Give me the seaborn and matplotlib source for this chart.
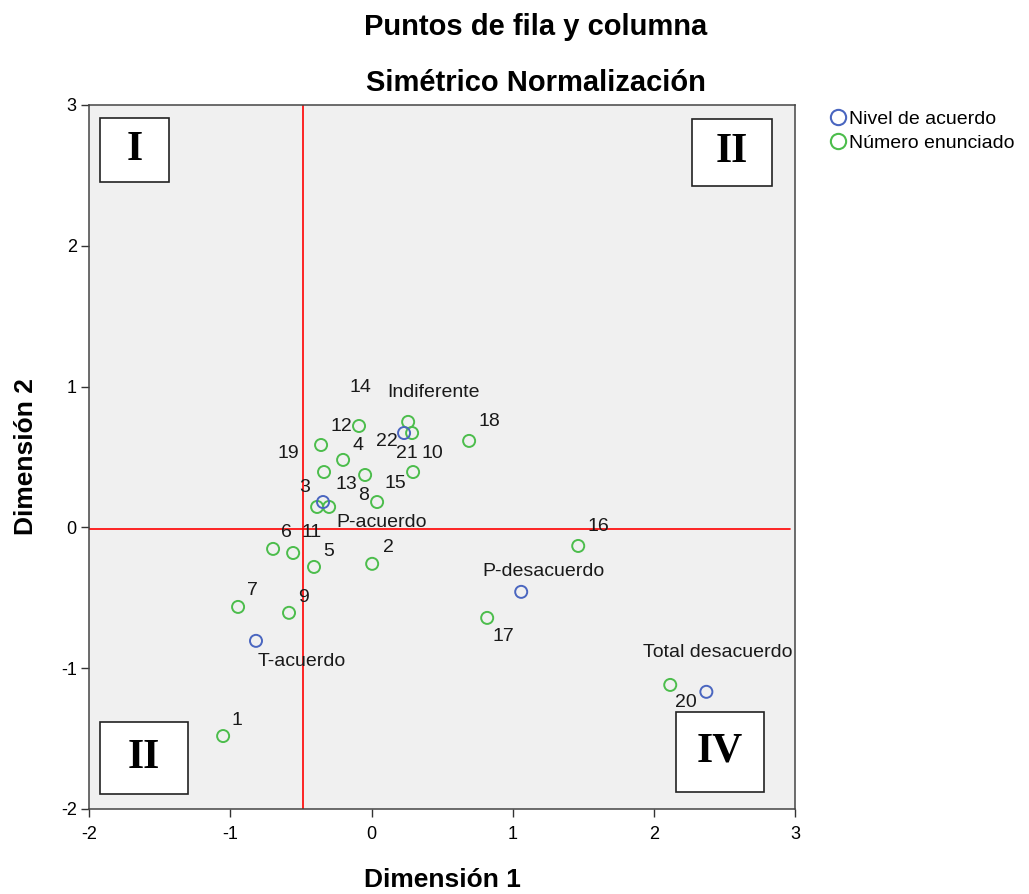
import pandas as pd
import seaborn as sns
import matplotlib.pyplot as plt
from matplotlib.patches import Rectangle
from matplotlib.lines import Line2D

# Datos
enunciados = [str(i) for i in range(1, 23)]
enunciados_dim1 = [-1.052, 0.004, -0.386, -0.202, -0.408, -0.698, -0.946, -0.046, -0.585, 0.294, -0.556,
                   -0.358, -0.301, -0.089, 0.039, 1.464, 0.819, 0.691, -0.337, 2.116, 0.287, 0.259]
enunciados_dim2 = [-1.482, -0.259, 0.145, 0.479, -0.281, -0.153, -0.565, 0.372, -0.607, 0.393, -0.182,
                   0.585, 0.145, 0.720, 0.180, -0.132, -0.643, 0.614, 0.393, -1.119, 0.670, 0.749]

niveles = ['T-acuerdo', 'P-acuerdo', 'Indiferente', 'P-desacuerdo', 'Total desacuerdo']
niveles_dim1 = [-0.819, -0.344, 0.230, 1.060, 2.372]
niveles_dim2 = [-0.806, 0.180, 0.670, -0.458, -1.168]

# desplazamiento de las etiquetas (pixeles)
off_enunciados = [(14, 16), (16, 16), (-12, 19), (15, 14), (15, 15), (13, 16), (14, 16), (-2, -21),
                  (14, 15), (19, 19), (19, 20), (20, 18), (17, 22), (1, 38), (18, 19), (20, 19),
                  (16, -19), (20, 19), (-36, 19), (16, -18), (-5, -20), (-21, -20)]
off_niveles = [(46, -21), (59, -20), (29, 41), (22, 20), (11, 39)]

verde = '#4cbd4c'
azul = '#4a66c0'

df_enun = pd.DataFrame({'etiqueta': enunciados, 'dim1': enunciados_dim1, 'dim2': enunciados_dim2})
df_niv = pd.DataFrame({'etiqueta': niveles, 'dim1': niveles_dim1, 'dim2': niveles_dim2})

sns.set_style('white')
plt.rcParams['font.family'] = ['Liberation Sans', 'DejaVu Sans']
plt.rcParams['axes.unicode_minus'] = False
plt.rcParams['text.color'] = 'black'
plt.rcParams['axes.labelcolor'] = 'black'
plt.rcParams['xtick.color'] = 'black'
plt.rcParams['ytick.color'] = 'black'

fig = plt.figure(figsize=(10.29, 8.94), dpi=100)
ax = fig.add_axes([0.0868, 0.0951, 0.6858, 0.7875])
ax.set_facecolor('#f0f0f0')

sns.scatterplot(data=df_enun, x='dim1', y='dim2', ax=ax, s=75, facecolors='none',
                edgecolor=verde, linewidth=1.4, zorder=3)
sns.scatterplot(data=df_niv, x='dim1', y='dim2', ax=ax, s=75, facecolors='none',
                edgecolor=azul, linewidth=1.4, zorder=3)

# lineas de referencia
ax.axvline(-0.485, color='#ff0000', linewidth=1.2, zorder=2)
ax.axhline(-0.011, color='#ff0000', linewidth=1.2, xmax=0.993, zorder=2)

# etiquetas de los puntos
for df, offs in [(df_enun, off_enunciados), (df_niv, off_niveles)]:
    for (_, row), off in zip(df.iterrows(), offs):
        ax.annotate(row['etiqueta'], (row['dim1'], row['dim2']), textcoords='offset pixels',
                    xytext=off, ha='center', va='center', fontsize=14, color='#1a1a1a', zorder=4)

# cuadros de cuadrantes
cuadros = [('I', 0.0152, 0.891, 0.0982, 0.090),
           ('II', 0.8536, 0.8854, 0.1142, 0.0946),
           ('II', 0.0152, 0.0213, 0.1251, 0.1023),
           ('IV', 0.831, 0.0246, 0.1255, 0.1128)]
for texto, x0, y0, w, h in cuadros:
    ax.add_patch(Rectangle((x0, y0), w, h, transform=ax.transAxes, facecolor='white',
                           edgecolor='#222222', linewidth=1.2, zorder=5))
    ax.text(x0 + w / 2, y0 + h / 2, texto, transform=ax.transAxes, ha='center', va='center',
            fontsize=30, fontweight='bold', family='Liberation Serif', zorder=6)

ax.set_xlim(-2, 3)
ax.set_ylim(-2, 3)
ax.set_xticks(range(-2, 4))
ax.set_yticks(range(-2, 4))
ax.tick_params(direction='out', length=6, width=1, color='#333333', labelsize=13, pad=3)
ax.tick_params(axis='x', bottom=True, pad=6)
ax.tick_params(axis='y', left=True)
for sp in ax.spines.values():
    sp.set_color('#444444')
    sp.set_linewidth(1.1)

ax.set_xlabel('Dimensión 1', fontsize=19, fontweight='bold')
ax.set_ylabel('Dimensión 2', fontsize=19, fontweight='bold')
ax.xaxis.set_label_coords(0.5, -0.084)
ax.yaxis.set_label_coords(-0.073, 0.5)

fig.text(0.521, 0.9609, 'Puntos de fila y columna', ha='center', va='baseline',
         fontsize=21, fontweight='bold')
fig.text(0.521, 0.898, 'Simétrico Normalización', ha='center', va='baseline',
         fontsize=21, fontweight='bold')

# leyenda
handles = [Line2D([], [], marker='o', linestyle='none', markerfacecolor='none', markeredgecolor=azul,
                  markersize=11, markeredgewidth=1.5),
           Line2D([], [], marker='o', linestyle='none', markerfacecolor='none', markeredgecolor=verde,
                  markersize=11, markeredgewidth=1.5)]
fig.legend(handles, ['Nivel de acuerdo', 'Número enunciado'], loc='upper left',
           bbox_to_anchor=(0.803, 0.881), frameon=False, fontsize=14, handlelength=0.8,
           handletextpad=0.15, labelspacing=0.35, borderaxespad=0, borderpad=0.2)

fig.savefig('out.png', dpi=100)
